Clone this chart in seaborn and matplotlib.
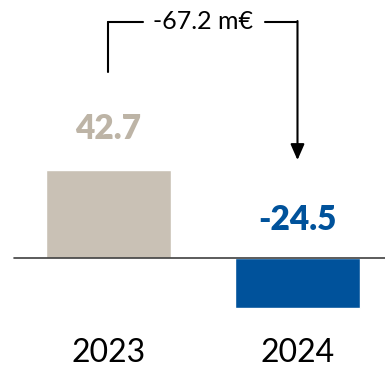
import matplotlib
matplotlib.use("Agg")
import matplotlib.pyplot as plt
import seaborn as sns
import pandas as pd

years = ["2023", "2024"]
values = [42.7, -24.5]
value_labels = ["42.7", "-24.5"]
delta_label = "-67.2 m€"
bar_colors = ["#c9c1b5", "#00529b"]
label_colors = ["#bdb4a6", "#00529b"]

sns.set_theme(style="white")
plt.rcParams["font.family"] = ["Lato", "DejaVu Sans"]

df = pd.DataFrame({"year": years, "value": values})

fig = plt.figure(figsize=(3.85, 3.70), dpi=100)
ax = fig.add_axes([0, 0, 1, 1])
sns.barplot(data=df, x="year", y="value", hue="year", palette=bar_colors,
            width=0.66, legend=False, ax=ax, saturation=1)

ax.set_xlim(-0.574, 1.463)
ax.set_ylim(-54.4, 125.2)
ax.axhline(0, xmin=(-0.5 + 0.574) / 2.037, xmax=1, color="#404040", lw=1.2)
ax.axis("off")

for i, (v, lab, c) in enumerate(zip(values, value_labels, label_colors)):
    y = v + 20 if v > 0 else 18.4
    ax.text(i, y, lab, ha="center", va="center", fontsize=24, fontweight="heavy", color=c)
    ax.text(i, -46, years[i], ha="center", va="center", fontsize=23, color="black")

# bracket
ytop = 114.6
ax.plot([0, 0], [90.3, ytop], color="black", lw=1.5)
ax.plot([0, 0.18], [ytop, ytop], color="black", lw=1.5)
ax.plot([0.83, 1], [ytop, ytop], color="black", lw=1.5)
ax.annotate("", xy=(1, 47.5), xytext=(1, ytop + 0.4),
            arrowprops=dict(arrowstyle="-|>,head_length=0.8,head_width=0.35", color="black", lw=1.5,
                            shrinkA=0, shrinkB=0))
ax.text(0.5, ytop, delta_label, ha="center", va="center", fontsize=18, color="black")

fig.savefig("out.png", dpi=100)
